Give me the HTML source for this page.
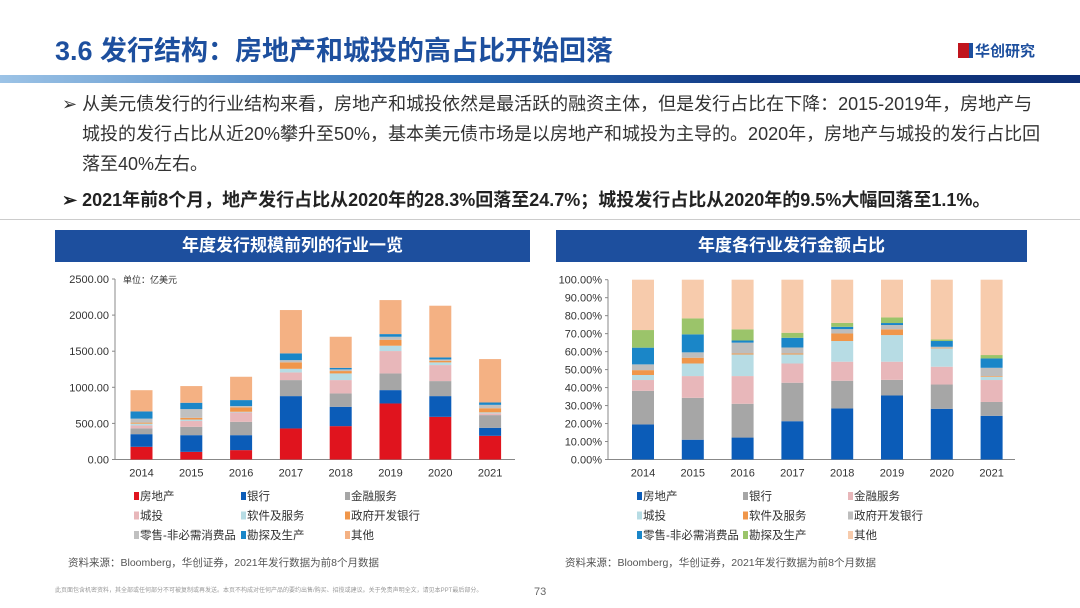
<!DOCTYPE html>
<html><head><meta charset="utf-8">
<style>
body{margin:0;width:1080px;height:608px;background:#fff;font-family:"Liberation Sans","Noto Sans CJK SC",sans-serif;overflow:hidden;position:relative}
.abs{position:absolute}
.title{left:55px;top:29px;font-size:27px;font-weight:bold;color:#1d4f9e;letter-spacing:0px}
.bar{left:0;top:75px;width:1080px;height:8px;background:linear-gradient(90deg,#9cc3e6 0%,#2c6fb8 40%,#123a85 70%,#0e2f75 100%)}
.bul{left:62px;font-size:18px;color:#333;line-height:30px;width:1010px;white-space:nowrap}
.ph{height:32px;background:#1d4f9e;color:#fff;font-weight:bold;font-size:17px;text-align:center;line-height:32px}
.src{font-size:10.5px;color:#555}
</style></head><body>
<div class="abs title">3.6 发行结构：房地产和城投的高占比开始回落</div>
<div class="abs" style="left:958px;top:40px;font-size:15px;font-weight:bold;color:#1d4f9e"><span style="display:inline-block;width:11px;height:15px;background:#c0151d;vertical-align:-2px;margin-right:2px;border-right:4px solid #1d4f9e"></span>华创研究</div>
<div class="abs bar"></div>
<div class="abs bul" style="top:89px">➢ 从美元债发行的行业结构来看，房地产和城投依然是最活跃的融资主体，但是发行占比在下降：2015-2019年，房地产与<br>&nbsp;&nbsp;&nbsp;&nbsp;城投的发行占比从近20%攀升至50%，基本美元债市场是以房地产和城投为主导的。2020年，房地产与城投的发行占比回<br>&nbsp;&nbsp;&nbsp;&nbsp;落至40%左右。</div>
<div class="abs bul" style="top:185px;font-weight:bold;color:#222">➢ 2021年前8个月，地产发行占比从2020年的28.3%回落至24.7%；城投发行占比从2020年的9.5%大幅回落至1.1%。</div>
<div class="abs" style="left:0;top:219px;width:1080px;height:1px;background:#ccc"></div>
<div class="abs ph" style="left:55px;top:230px;width:475px">年度发行规模前列的行业一览</div>
<div class="abs ph" style="left:556px;top:230px;width:471px">年度各行业发行金额占比</div>
<svg class="abs" style="left:0;top:0" width="1080" height="608" id="charts"></svg>
<div class="abs src" style="left:68px;top:555px">资料来源：Bloomberg，华创证券，2021年发行数据为前8个月数据</div>
<div class="abs src" style="left:565px;top:555px">资料来源：Bloomberg，华创证券，2021年发行数据为前8个月数据</div>
<div class="abs" style="left:55px;top:585px;font-size:6px;color:#999">此页面包含机密资料，其全部或任何部分不可被复制或再发送。本页不构成对任何产品的要约出售/购买、招揽或建议。关于免责声明全文，请见本PPT最后部分。</div>
<div class="abs" style="left:534px;top:586px;font-size:11px;color:#666">73</div>
<script>
const years=["2014","2015","2016","2017","2018","2019","2020","2021"];
const leftSeriesNames=["房地产","银行","金融服务","城投","软件及服务","政府开发银行","零售-非必需消费品","勘探及生产","其他"];
const leftRealEstate=[176,106,130,430,462,776,591,328];
const leftBanks=[175,231,207,448,268,185,287,111];
const leftFinServ=[80,116,185,222,185,231,208,176];
const leftLGFV=[40,80,129,106,185,310,222,23];
const leftSoftware=[25,20,10,50,92,74,37,15];
const leftPolicyBank=[15,25,60,90,33,83,23,57];
const leftRetail=[55,120,20,30,23,41,18,47];
const leftExplore=[100,88,82,94,22,37,28,33];
const leftOther=[294,231,323,600,430,471,716,601];
const leftTicks=[0,500,1000,1500,2000,2500];
const rightSeriesNames=["房地产","银行","金融服务","城投","软件及服务","政府开发银行","零售-非必需消费品","勘探及生产","其他"];
const rightRealEstate=[19.5,11,12.2,21.3,28.4,35.6,28.2,24.3];
const rightBanks=[18.7,23.3,18.8,21.4,15.4,8.7,13.5,7.7];
const rightFinServ=[6,12.1,15.4,10.7,10.6,10.1,9.9,12.2];
const rightLGFV=[2.8,7,12,5,11.5,14.8,10.2,1.8];
const rightSoftware=[2.7,3.2,0.6,0.6,4.2,3.2,0.4,0.4];
const rightPolicyBank=[3.2,3,6,3.3,2.4,2.4,0.5,4.6];
const rightRetail=[9.3,10,1.2,5.4,1.3,1.1,3.2,5.2];
const rightExplore=[9.8,8.9,6.2,2.8,2.2,3.1,0.9,1.9];
const rightOther=[28,21.5,27.6,29.5,24,21,33.2,41.9];
const rightTicks=[0,10,20,30,40,50,60,70,80,90,100];

const NS="http://www.w3.org/2000/svg";
const svg=document.getElementById('charts');
function mk(t,a,parent){const e=document.createElementNS(NS,t);for(const k in a)e.setAttribute(k,a[k]);(parent||svg).appendChild(e);return e;}
const leftColors=["#e0141e","#0b5cb8","#a6a6a6","#e8b7ba","#b7dce4","#f0964a","#c0c0c0","#1a86c8","#f4b183"];
const rightColors=["#0b5cb8","#a6a6a6","#e8b7ba","#b7dce4","#f0964a","#bdbdbd","#1a86c8","#9bc46a","#f7cbac"];

function drawChart(cfg){
  const {x0,x1,y0,y1,max,ticks,fmt,series,colors,names,centers,prefix,legX,legY}=cfg;
  const ys=v=>y0-(v/max)*(y0-y1);
  const xs=i=>centers[0]+i*(centers[1]-centers[0]);
  mk('line',{x1:x0,y1:y1,x2:x0,y2:y0,stroke:'#888','stroke-width':1});
  mk('line',{x1:x0,y1:y0,x2:x1,y2:y0,stroke:'#888','stroke-width':1});
  ticks.forEach(t=>{
    mk('line',{x1:x0-3,y1:ys(t),x2:x0,y2:ys(t),stroke:'#888'});
    const tx=mk('text',{x:x0-6,y:ys(t)+4,'text-anchor':'end','font-size':11,fill:'#333','font-family':'Liberation Sans'});
    tx.textContent=fmt(t);
    
    
  });
  years.forEach((y,i)=>{
    const tx=mk('text',{x:xs(i),y:y0+17,'text-anchor':'middle','font-size':11,fill:'#333','font-family':'Liberation Sans'});
    tx.textContent=y;
    
    
    let cum=0;
    series.forEach((s,k)=>{
      const r=mk('rect',{x:xs(i)-11,y:ys(cum+s[i]),width:22,height:Math.max(0,ys(cum)-ys(cum+s[i])),fill:colors[k]});
      
      
      cum+=s[i];
    });
  });
  names.forEach((n,k)=>{
    const col=k%3,row=Math.floor(k/3);
    const gx=legX[col],gy=legY+row*19.5;
    mk('rect',{x:gx,y:gy-8,width:5,height:8,fill:colors[k]});
    const tx=mk('text',{x:gx+6,y:gy,'font-size':11.5,fill:'#333','font-family':'Liberation Sans, Noto Sans CJK SC, sans-serif'});
    tx.textContent=n;
    
    
  });
}
drawChart({x0:115,x1:515,y0:459.5,y1:279,max:2500,ticks:leftTicks,fmt:t=>t.toFixed(2),
  series:[leftRealEstate,leftBanks,leftFinServ,leftLGFV,leftSoftware,leftPolicyBank,leftRetail,leftExplore,leftOther],
  colors:leftColors,names:leftSeriesNames,centers:[141.5,191.3],prefix:'left',legX:[134,241,345],legY:500});
const u=mk('text',{x:123,y:283,'font-size':9,fill:'#333','font-family':'Liberation Sans, Noto Sans CJK SC, sans-serif'});
u.textContent='单位：亿美元';


drawChart({x0:608,x1:1015,y0:459.5,y1:279.7,max:100,ticks:rightTicks,fmt:t=>t.toFixed(2)+'%',
  series:[rightRealEstate,rightBanks,rightFinServ,rightLGFV,rightSoftware,rightPolicyBank,rightRetail,rightExplore,rightOther],
  colors:rightColors,names:rightSeriesNames,centers:[643,692.8],prefix:'right',legX:[637,743,848],legY:500});
</script>
</body></html>
